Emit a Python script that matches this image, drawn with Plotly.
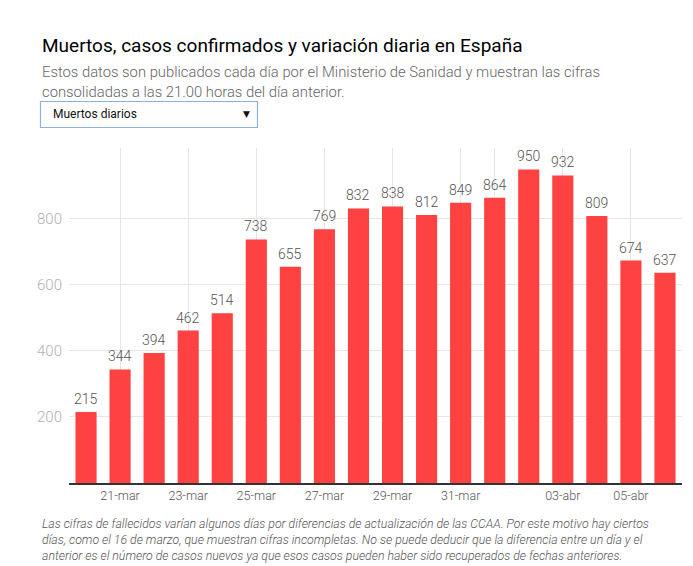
import plotly.graph_objects as go

# ---- data ----
fechas = ["20-mar", "21-mar", "22-mar", "23-mar", "24-mar", "25-mar", "26-mar", "27-mar",
          "28-mar", "29-mar", "30-mar", "31-mar", "01-abr", "02-abr", "03-abr", "04-abr",
          "05-abr", "06-abr"]
muertos_diarios = [215, 344, 394, 462, 514, 738, 655, 769, 832, 838, 812, 849, 864, 950,
                   932, 809, 674, 637]
tick_fechas = ["21-mar", "23-mar", "25-mar", "27-mar", "29-mar", "31-mar", "01-abr", "03-abr", "05-abr"]
tick_textos = ["21-mar", "23-mar", "25-mar", "27-mar", "29-mar", "31-mar", "", "03-abr", "05-abr"]
y_ticks = [200, 400, 600, 800]

titulo = "Muertos, casos confirmados y variación diaria en España"
subtitulo = ["Estos datos son publicados cada día por el Ministerio de Sanidad y muestran las cifras",
             "consolidadas a las 21.00 horas del día anterior."]
nota = ["Las cifras de fallecidos varían algunos días por diferencias de actualización de las CCAA. Por este motivo hay ciertos",
        "días, como el 16 de marzo, que muestran cifras incompletas. No se puede deducir que la diferencia entre un día y el",
        "anterior es el número de casos nuevos ya que esos casos pueden haber sido recuperados de fechas anteriores."]

W, H = 693, 566
L, R, T, B = 69, 11, 148, 83
PW, PH = W - L - R, H - T - B

def px_x(x):
    return (x - L) / PW

def px_y(y):
    return 1 - (y - T) / PH

FONT = "Roboto"

fig = go.Figure(go.Bar(
    x=fechas, y=muertos_diarios,
    marker=dict(color="#fe4141", line=dict(width=0)),
    hoverinfo="x+y",
))

fig.update_layout(
    width=W, height=H,
    margin=dict(l=L, r=R, t=T, b=B, pad=0),
    paper_bgcolor="white", plot_bgcolor="white",
    bargap=0.38, showlegend=False,
    font=dict(family=FONT),
    xaxis=dict(type="category", categoryorder="array", categoryarray=fechas,
               tickmode="array", tickvals=tick_fechas, ticktext=tick_textos,
               showgrid=True, gridcolor="#e6e6e6", gridwidth=1,
               showline=True, linecolor="#333333", linewidth=1.5,
               ticks="", tickfont=dict(family=FONT, size=12.5, color="#555555", weight=300),
               range=[-0.5, 17.5], fixedrange=True),
    yaxis=dict(range=[0, 1015], tickmode="array", tickvals=y_ticks,
               showgrid=True, gridcolor="#e6e6e6", gridwidth=1,
               zeroline=False, showline=False, ticks="",
               tickfont=dict(family=FONT, size=15, color="#b0b0b0", weight=300),
               ticklabelstandoff=6, fixedrange=True),
)

ann = []
# value labels above bars (data coordinates)
for f, v in zip(fechas, muertos_diarios):
    ann.append(dict(text=str(v), x=f, y=v, xref="x", yref="y", xanchor="center",
                    yanchor="bottom", yshift=3, showarrow=False,
                    font=dict(family=FONT, size=14, color="#555555", weight=300)))
ann.append(dict(text=titulo, x=px_x(40), y=px_y(45), xref="paper", yref="paper",
                xanchor="left", yanchor="middle", showarrow=False,
                font=dict(family=FONT, size=19, color="#000000", weight=400)))
for i, line in enumerate(subtitulo):
    ann.append(dict(text=line, x=px_x(40), y=px_y(72 + 20 * i), xref="paper", yref="paper",
                    xanchor="left", yanchor="middle", showarrow=False,
                    font=dict(family=FONT, size=14.8, color="#666666", weight=300)))
ann.append(dict(text="<br>".join(nota), x=px_x(40), y=px_y(540), xref="paper", yref="paper",
                xanchor="left", yanchor="middle", align="left", showarrow=False,
                font=dict(family=FONT, size=12.3, color="#555555", style="italic", weight=300)))
# dropdown (static)
ann.append(dict(text="Muertos diarios", x=px_x(51), y=px_y(114), xref="paper", yref="paper",
                xanchor="left", yanchor="middle", showarrow=False,
                font=dict(family=FONT, size=12, color="#111111")))
ann.append(dict(text="▼", x=px_x(246), y=px_y(114), xref="paper", yref="paper",
                xanchor="center", yanchor="middle", showarrow=False,
                font=dict(family="DejaVu Sans", size=9, color="#111111")))
fig.update_layout(annotations=ann)

fig.add_shape(type="rect", xref="paper", yref="paper",
              x0=px_x(40.5), x1=px_x(257.5), y0=px_y(101.5), y1=px_y(127.5),
              line=dict(color="#8eb0df", width=1.2), fillcolor="white", layer="above")

fig.write_html("out.html", config={"displayModeBar": False},
               post_script="document.body.style.margin='0px';document.body.style.overflow='hidden';")
